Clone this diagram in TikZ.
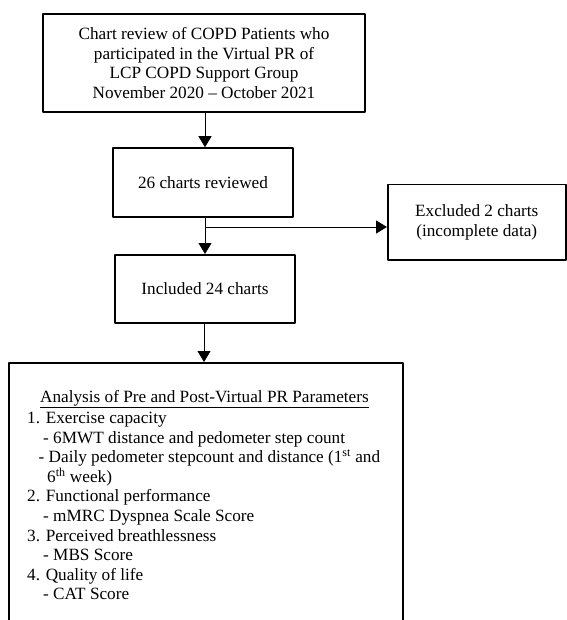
\documentclass[tikz,border=0pt]{standalone}
\usepackage{fontspec}
\setmainfont{Liberation Serif}
\usetikzlibrary{arrows.meta,positioning}
\begin{document}
\begin{tikzpicture}[x=1pt, y=-1pt, line join=round, >={Triangle[length=11pt,width=13pt]},
	box/.style={draw, line width=1.5pt, align=center, inner sep=0pt},
	conn/.style={line width=0.8pt}]
	\useasboundingbox (0,0) rectangle (566,620);
	\fontsize{17.2}{19.6}\selectfont
	\node[box, minimum width=322pt, minimum height=98pt] (review) at (204,63)
		{Chart review of COPD Patients who\\participated in the Virtual PR of\\LCP COPD Support Group\\November 2020 -- October 2021};
	\node[box, minimum width=180pt, minimum height=69pt] (reviewed) at (203,182.5) {26 charts reviewed};
	\node[box, minimum width=178pt, minimum height=75pt, anchor=north west] (excl) at (387,184)
		{Excluded 2 charts\\(incomplete data)};
	\node[box, minimum width=180pt, minimum height=68pt, anchor=north] (incl) at (205,254) {Included 24 charts};
	\node[box, minimum width=394pt, minimum height=290pt, anchor=north west] (analysis) at (8,362) {};
	\node[anchor=base] (title) at (204.5,402) {\underline{Analysis of Pre and Post-Virtual PR Parameters}};
	\node[anchor=north west, align=left, inner sep=0pt] (params) at (27,412)
		{1. Exercise capacity\\
		\hspace*{16pt}- 6MWT distance and pedometer step count\\
		\hspace*{11.5pt}- Daily pedometer stepcount and distance (1\textsuperscript{st} and\\
		\hspace*{20pt}6\textsuperscript{th} week)\\
		2. Functional performance\\
		\hspace*{16pt}- mMRC Dyspnea Scale Score\\
		3. Perceived breathlessness\\
		\hspace*{16pt}- MBS Score\\
		4. Quality of life\\
		\hspace*{16pt}- CAT Score};
	% connectors
	\coordinate (split) at (205,227);
	\draw[conn,->] (review.south -| 205,0) -- (reviewed.north -| 205,0);
	\draw[conn] (reviewed.south -| split) -- (split);
	\draw[conn,->] (split) -- (split -| excl.west);
	\draw[conn,->] (split) -- (split |- incl.north);
	\draw[conn,->] (incl.south -| 204,0) -- (analysis.north -| 204,0);
\end{tikzpicture}
\end{document}
